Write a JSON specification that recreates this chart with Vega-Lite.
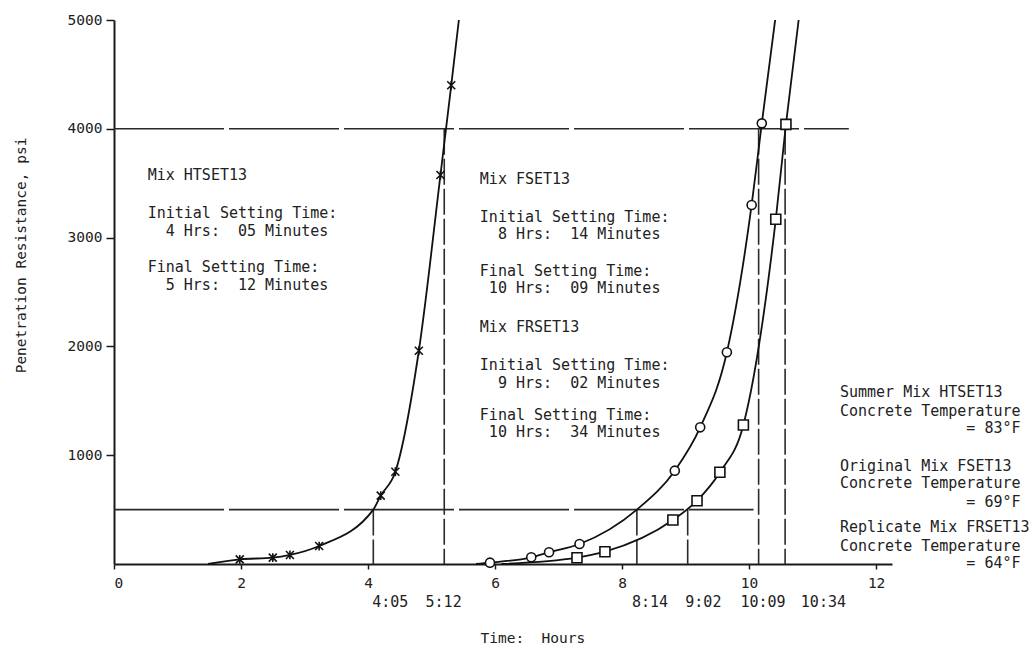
{
  "$schema": "https://vega.github.io/schema/vega-lite/v6.json",
  "width": 778,
  "height": 544,
  "autosize": {"type": "none"},
  "padding": {"left": 114, "top": 20, "right": 143, "bottom": 85},
  "background": "white",
  "config": {
    "view": {"stroke": null},
    "font": "DejaVu Sans Mono",
    "axis": {"grid": false, "domainColor": "#1a1a1a", "domainWidth": 2, "tickColor": "#1a1a1a", "tickWidth": 1.5, "labelFont": "DejaVu Sans Mono", "labelFontSize": 14.5, "labelColor": "#222", "titleFont": "DejaVu Sans Mono", "titleFontSize": 14.5, "titleFontWeight": "normal", "titleColor": "#222"}
  },
  "datasets": {
    "curves": [
      {"mix": "HTSET13", "t": 1.48, "psi": 0},
      {"mix": "HTSET13", "t": 1.98, "psi": 43},
      {"mix": "HTSET13", "t": 2.5, "psi": 58},
      {"mix": "HTSET13", "t": 2.77, "psi": 83},
      {"mix": "HTSET13", "t": 3.23, "psi": 165},
      {"mix": "HTSET13", "t": 4.083, "psi": 500},
      {"mix": "HTSET13", "t": 4.2, "psi": 628},
      {"mix": "HTSET13", "t": 4.43, "psi": 848},
      {"mix": "HTSET13", "t": 4.8, "psi": 1960},
      {"mix": "HTSET13", "t": 5.14, "psi": 3575},
      {"mix": "HTSET13", "t": 5.31, "psi": 4400},
      {"mix": "HTSET13", "t": 5.43, "psi": 5000},
      {"mix": "FSET13", "t": 5.7, "psi": 0},
      {"mix": "FSET13", "t": 5.92, "psi": 12},
      {"mix": "FSET13", "t": 6.57, "psi": 62},
      {"mix": "FSET13", "t": 6.85, "psi": 108},
      {"mix": "FSET13", "t": 7.33, "psi": 184},
      {"mix": "FSET13", "t": 8.233, "psi": 500},
      {"mix": "FSET13", "t": 8.83, "psi": 858},
      {"mix": "FSET13", "t": 9.23, "psi": 1256},
      {"mix": "FSET13", "t": 9.65, "psi": 1946},
      {"mix": "FSET13", "t": 10.04, "psi": 3300},
      {"mix": "FSET13", "t": 10.2, "psi": 4050},
      {"mix": "FSET13", "t": 10.41, "psi": 5000},
      {"mix": "FRSET13", "t": 6.1, "psi": 0},
      {"mix": "FRSET13", "t": 7.29, "psi": 58},
      {"mix": "FRSET13", "t": 7.73, "psi": 113},
      {"mix": "FRSET13", "t": 8.8, "psi": 404},
      {"mix": "FRSET13", "t": 9.18, "psi": 582},
      {"mix": "FRSET13", "t": 9.54, "psi": 843},
      {"mix": "FRSET13", "t": 9.91, "psi": 1278},
      {"mix": "FRSET13", "t": 10.42, "psi": 3168},
      {"mix": "FRSET13", "t": 10.58, "psi": 4041},
      {"mix": "FRSET13", "t": 10.78, "psi": 5000}
    ],
    "obs": [
      {"mix": "HTSET13", "t": 1.98, "psi": 43},
      {"mix": "HTSET13", "t": 2.5, "psi": 58},
      {"mix": "HTSET13", "t": 2.77, "psi": 83},
      {"mix": "HTSET13", "t": 3.23, "psi": 165},
      {"mix": "HTSET13", "t": 4.2, "psi": 628},
      {"mix": "HTSET13", "t": 4.43, "psi": 848},
      {"mix": "HTSET13", "t": 4.8, "psi": 1960},
      {"mix": "HTSET13", "t": 5.14, "psi": 3575},
      {"mix": "HTSET13", "t": 5.31, "psi": 4400},
      {"mix": "FSET13", "t": 5.92, "psi": 12},
      {"mix": "FSET13", "t": 6.57, "psi": 62},
      {"mix": "FSET13", "t": 6.85, "psi": 108},
      {"mix": "FSET13", "t": 7.33, "psi": 184},
      {"mix": "FSET13", "t": 8.83, "psi": 858},
      {"mix": "FSET13", "t": 9.23, "psi": 1256},
      {"mix": "FSET13", "t": 9.65, "psi": 1946},
      {"mix": "FSET13", "t": 10.04, "psi": 3300},
      {"mix": "FSET13", "t": 10.2, "psi": 4050},
      {"mix": "FRSET13", "t": 7.29, "psi": 58},
      {"mix": "FRSET13", "t": 7.73, "psi": 113},
      {"mix": "FRSET13", "t": 8.8, "psi": 404},
      {"mix": "FRSET13", "t": 9.18, "psi": 582},
      {"mix": "FRSET13", "t": 9.54, "psi": 843},
      {"mix": "FRSET13", "t": 9.91, "psi": 1278},
      {"mix": "FRSET13", "t": 10.42, "psi": 3168},
      {"mix": "FRSET13", "t": 10.58, "psi": 4041}
    ],
    "hlines": [
      {"t0": 0, "t1": 11.57, "psi": 4000},
      {"t0": 0, "t1": 10.07, "psi": 500}
    ],
    "vlines": [
      {"t": 4.083, "top": 500},
      {"t": 5.2, "top": 4000},
      {"t": 8.233, "top": 500},
      {"t": 9.033, "top": 500},
      {"t": 10.15, "top": 4000},
      {"t": 10.567, "top": 4000}
    ],
    "timelabels": [
      {"t": 4.35, "psi": -346, "label": "4:05"},
      {"t": 5.19, "psi": -346, "label": "5:12"},
      {"t": 8.44, "psi": -346, "label": "8:14"},
      {"t": 9.28, "psi": -346, "label": "9:02"},
      {"t": 10.22, "psi": -346, "label": "10:09"},
      {"t": 11.17, "psi": -346, "label": "10:34"}
    ],
    "notes": [
      {"t": 0.53, "psi": 3575, "label": "Mix HTSET13"},
      {"t": 0.53, "psi": 3229, "label": "Initial Setting Time:"},
      {"t": 0.53, "psi": 3061, "label": "\u200b\u00a0\u00a04 Hrs:\u00a0\u00a005 Minutes"},
      {"t": 0.53, "psi": 2727, "label": "Final Setting Time:"},
      {"t": 0.53, "psi": 2564, "label": "\u200b\u00a0\u00a05 Hrs:\u00a0\u00a012 Minutes"},
      {"t": 5.76, "psi": 3539, "label": "Mix FSET13"},
      {"t": 5.76, "psi": 3192, "label": "Initial Setting Time:"},
      {"t": 5.76, "psi": 3033, "label": "\u200b\u00a0\u00a08 Hrs:\u00a0\u00a014 Minutes"},
      {"t": 5.76, "psi": 2693, "label": "Final Setting Time:"},
      {"t": 5.76, "psi": 2534, "label": "\u200b\u00a010 Hrs:\u00a0\u00a009 Minutes"},
      {"t": 5.76, "psi": 2181, "label": "Mix FRSET13"},
      {"t": 5.76, "psi": 1829, "label": "Initial Setting Time:"},
      {"t": 5.76, "psi": 1661, "label": "\u200b\u00a0\u00a09 Hrs:\u00a0\u00a002 Minutes"},
      {"t": 5.76, "psi": 1369, "label": "Final Setting Time:"},
      {"t": 5.76, "psi": 1216, "label": "\u200b\u00a010 Hrs:\u00a0\u00a034 Minutes"},
      {"t": 11.43, "psi": 1584, "label": "Summer Mix HTSET13"},
      {"t": 11.43, "psi": 1409, "label": "Concrete Temperature"},
      {"t": 11.43, "psi": 1247, "label": "\u200b\u00a0\u00a0\u00a0\u00a0\u00a0\u00a0\u00a0\u00a0\u00a0\u00a0\u00a0\u00a0\u00a0\u00a0= 83°F"},
      {"t": 11.43, "psi": 901, "label": "Original Mix FSET13"},
      {"t": 11.43, "psi": 742, "label": "Concrete Temperature"},
      {"t": 11.43, "psi": 573, "label": "\u200b\u00a0\u00a0\u00a0\u00a0\u00a0\u00a0\u00a0\u00a0\u00a0\u00a0\u00a0\u00a0\u00a0\u00a0= 69°F"},
      {"t": 11.43, "psi": 343, "label": "Replicate Mix FRSET13"},
      {"t": 11.43, "psi": 168, "label": "Concrete Temperature"},
      {"t": 11.43, "psi": 12, "label": "\u200b\u00a0\u00a0\u00a0\u00a0\u00a0\u00a0\u00a0\u00a0\u00a0\u00a0\u00a0\u00a0\u00a0\u00a0= 64°F"}
    ]
  },
  "encoding": {
    "x": {"type": "quantitative", "scale": {"domain": [0, 12.25], "nice": false, "zero": false},
      "axis": {"title": "Time:\u00a0\u00a0Hours", "values": [0, 2, 4, 6, 8, 10, 12], "format": "d", "tickSize": 5, "labelPadding": 14, "labelBaseline": "middle", "titleX": 366, "titleY": 74, "titleAlign": "left", "titleAnchor": "start", "titleBaseline": "middle"}},
    "y": {"type": "quantitative", "scale": {"domain": [0, 5000], "nice": false, "zero": false},
      "axis": {"title": "Penetration Resistance, psi", "values": [1000, 2000, 3000, 4000, 5000], "format": "d", "tickSize": 8, "labelPadding": 4, "titleX": -93, "titleY": 235, "titleAngle": -90, "titleAlign": "center", "titleBaseline": "middle", "titleAnchor": "middle"}}
  },
  "layer": [
    {
      "data": {"name": "hlines"},
      "mark": {"type": "rule", "color": "#2a2a2a", "strokeWidth": 1.6, "strokeDash": [110, 5]},
      "encoding": {"x": {"field": "t0", "type": "quantitative"}, "x2": {"field": "t1"}, "y": {"field": "psi", "type": "quantitative"}}
    },
    {
      "data": {"name": "vlines"},
      "mark": {"type": "rule", "color": "#2a2a2a", "strokeWidth": 1.6, "strokeDash": [26, 4]},
      "encoding": {"x": {"field": "t", "type": "quantitative"}, "y": {"field": "top", "type": "quantitative"}, "y2": {"datum": 0}}
    },
    {
      "data": {"name": "curves"},
      "mark": {"type": "line", "color": "#111", "strokeWidth": 1.8, "interpolate": "monotone"},
      "encoding": {"x": {"field": "t", "type": "quantitative"}, "y": {"field": "psi", "type": "quantitative"}, "detail": {"field": "mix"}}
    },
    {
      "data": {"name": "obs"},
      "mark": {"type": "point", "filled": true, "fill": "white", "stroke": "#111", "strokeWidth": 1.6, "opacity": 1},
      "encoding": {
        "x": {"field": "t", "type": "quantitative"},
        "y": {"field": "psi", "type": "quantitative"},
        "shape": {"field": "mix", "type": "nominal", "legend": null,
          "scale": {"domain": ["HTSET13", "FSET13", "FRSET13"], "range": ["M-1,-1L1,1M-1,1L1,-1M0,-1.1L0,1.1", "circle", "square"]}},
        "size": {"field": "mix", "type": "nominal", "legend": null,
          "scale": {"domain": ["HTSET13", "FSET13", "FRSET13"], "range": [64, 100, 70]}}
      }
    },
    {
      "data": {"name": "notes"},
      "mark": {"type": "text", "align": "left", "baseline": "middle", "font": "DejaVu Sans Mono", "fontSize": 15, "color": "#222"},
      "encoding": {"x": {"field": "t", "type": "quantitative"}, "y": {"field": "psi", "type": "quantitative"}, "text": {"field": "label"}}
    },
    {
      "data": {"name": "timelabels"},
      "mark": {"type": "text", "align": "center", "baseline": "middle", "font": "DejaVu Sans Mono", "fontSize": 15, "color": "#222"},
      "encoding": {"x": {"field": "t", "type": "quantitative"}, "y": {"field": "psi", "type": "quantitative"}, "text": {"field": "label"}}
    }
  ]
}
